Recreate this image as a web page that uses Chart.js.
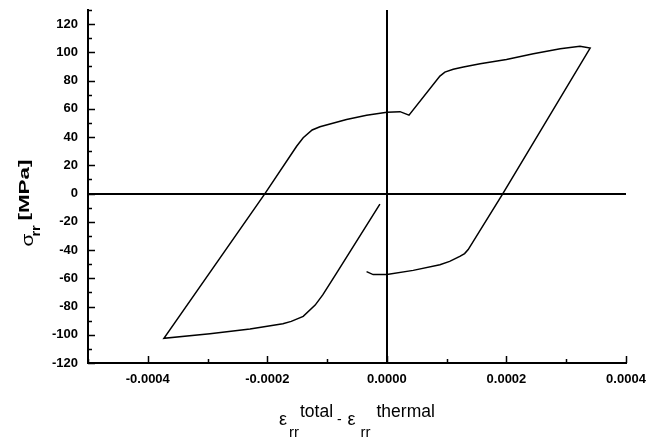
<!DOCTYPE html>
<html>
<head>
<meta charset="utf-8">
<script src="https://cdn.jsdelivr.net/npm/chart.js@4/dist/chart.umd.min.js"></script>
<style>
  html, body { margin: 0; padding: 0; background: #fff; }
  canvas { display: block; }
</style>
</head>
<body>
<canvas id="c" width="651" height="441"></canvas>
<script>
const strainX = [
  -0.0000117, -0.0000842, -0.000107, -0.00012, -0.00014, -0.00016, -0.000174, -0.000229, -0.000296, -0.000373,
  -0.000204, -0.000151, -0.00014, -0.000125, -0.000112, -0.0000675, -0.000034, 0, 0.000022, 0.000037,
  0.0000887, 0.000097, 0.000111, 0.000128, 0.000156, 0.0002, 0.000245, 0.00029, 0.000323, 0.00034,
  0.000194, 0.000136, 0.00013, 0.000122, 0.000105, 0.0000887, 0.000044, 0, -0.000023, -0.000034
];
const stressY = [
  -7.5, -56.3, -71.6, -79, -87, -90.5, -92.2, -96, -99.3, -102.5,
  0, 33.5, 39.5, 45, 47.3, 52.5, 55.5, 57.5, 58, 55.5,
  83.2, 86, 88, 89.6, 92, 95, 99, 102.6, 104.3, 103,
  0, -39.7, -42.5, -44.5, -48, -50.4, -54.4, -57.4, -57.4, -55.3
];

const X_MIN = -0.0005, X_MAX = 0.0004, X_STEP = 0.0001;
const Y_MIN = -120, Y_MAX = 130, Y_STEP = 10;

const TICK_FONT = { family: '"Liberation Sans", Arial, sans-serif', size: 13, weight: 'bold' };

const isZero = v => Math.abs(v) < 1e-9;

// inner ticks + axis titles with sub/superscripts
const decorations = {
  id: 'decorations',
  afterDraw(chart) {
    const ctx = chart.ctx;
    const area = chart.chartArea;
    const xs = chart.scales.x, ys = chart.scales.y;
    ctx.save();
    ctx.strokeStyle = '#000';
    ctx.lineWidth = 1.5;
    ctx.beginPath();
    ys.ticks.forEach(t => {
      const py = Math.round(ys.getPixelForValue(t.value)) + 0.5;
      const len = Math.round(t.value) % 20 === 0 ? 7 : 4;
      ctx.moveTo(area.left, py);
      ctx.lineTo(area.left + len, py);
    });
    xs.ticks.forEach(t => {
      const px = Math.round(xs.getPixelForValue(t.value)) + 0.5;
      const k = Math.round(t.value / X_STEP);
      const len = k % 2 === 0 ? 7 : 4;
      ctx.moveTo(px, area.bottom);
      ctx.lineTo(px, area.bottom - len);
    });
    ctx.stroke();

    ctx.fillStyle = '#000';
    ctx.textBaseline = 'alphabetic';
    ctx.textAlign = 'left';

    // x title: ε_rr^total - ε_rr^thermal
    const cx = (area.left + area.right) / 2;
    const put = (txt, font, dx, y) => { ctx.font = font; ctx.fillText(txt, cx + dx, y); };
    const F = '"Liberation Sans", Arial, sans-serif';
    put('ε', '18px ' + F, -78, 425);
    put('rr', '15px ' + F, -68, 436.5);
    put('total', '17.5px ' + F, -57, 416.5);
    put('-', '14px ' + F, -20, 424);
    put('ε', '18px ' + F, -9.5, 425);
    put('rr', '15px ' + F, 3.5, 436.5);
    put('thermal', '17.5px ' + F, 19.5, 416.5);

    // y title: σ_rr [MPa], rotated
    const cy = (area.top + area.bottom) / 2;
    ctx.translate(0, cy + 60);
    ctx.rotate(-Math.PI / 2);
    const putR = (txt, font, u, v, sx) => {
      ctx.save();
      ctx.font = font;
      ctx.translate(u, v);
      ctx.scale(sx, 1);
      ctx.fillText(txt, 0, 0);
      ctx.restore();
    };
    putR('σ', '16px ' + F, 0, 33, 1.3);
    putR('rr', 'bold 12px ' + F, 10, 40, 1.2);
    putR('[MPa]', 'bold 14px ' + F, 26, 29, 1.6);
    ctx.restore();
  }
};

const noEdgePad = s => { s.paddingLeft = 0; s.paddingRight = 0; s.paddingTop = 0; s.paddingBottom = 0; };

new Chart(document.getElementById('c'), {
  type: 'scatter',
  data: {
    datasets: [{
      data: strainX.map((x, i) => ({ x, y: stressY[i] })),
      showLine: true,
      borderColor: '#000',
      borderWidth: 1.5,
      pointRadius: 0,
      tension: 0,
      fill: false
    }]
  },
  options: {
    responsive: false,
    animation: false,
    layout: { padding: { left: 28, top: 10, right: 25, bottom: 0 } },
    plugins: { legend: { display: false }, tooltip: { enabled: false } },
    scales: {
      x: {
        type: 'linear',
        min: X_MIN, max: X_MAX,
        afterFit: s => { s.height = 78; noEdgePad(s); },
        border: { display: true, color: '#000', width: 2 },
        grid: {
          drawTicks: false,
          lineWidth: 2,
          color: c => (c.tick && isZero(c.tick.value)) ? '#000' : 'rgba(0,0,0,0)'
        },
        ticks: {
          stepSize: X_STEP,
          autoSkip: false,
          maxRotation: 0,
          padding: 9,
          color: '#000',
          font: TICK_FONT,
          callback: v => {
            const k = Math.round(v / X_STEP);
            return k % 2 === 0 ? (k * X_STEP).toFixed(4) : '';
          }
        }
      },
      y: {
        min: Y_MIN, max: Y_MAX,
        afterFit: s => { s.width = 60; noEdgePad(s); },
        border: { display: true, color: '#000', width: 2 },
        grid: {
          drawTicks: false,
          lineWidth: 2,
          color: c => (c.tick && isZero(c.tick.value)) ? '#000' : 'rgba(0,0,0,0)'
        },
        ticks: {
          stepSize: Y_STEP,
          autoSkip: false,
          padding: 10,
          color: '#000',
          font: TICK_FONT,
          callback: v => (Math.round(v) % 20 === 0 ? String(Math.round(v)) : '')
        }
      }
    }
  },
  plugins: [decorations]
});
</script>
</body>
</html>
